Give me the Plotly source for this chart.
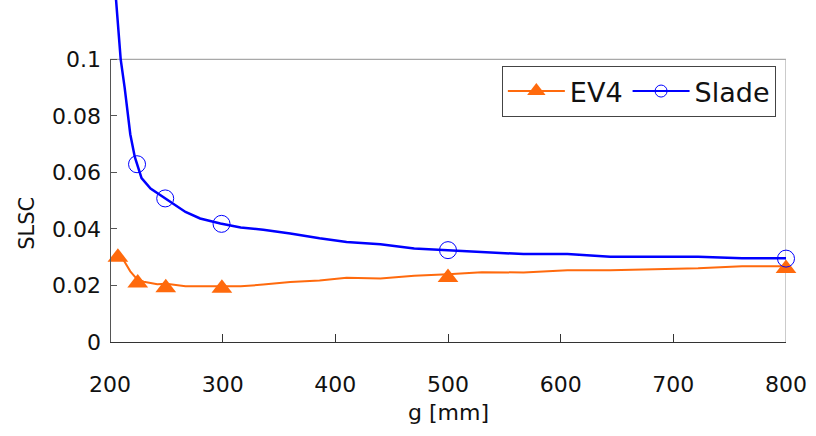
import plotly.graph_objects as go

# ---- data ----
g_line_slade = [204, 209.5, 213, 218, 222, 228, 236, 249, 267, 280, 298, 316, 336, 360, 386,
                410, 440, 470, 500, 530, 567, 606, 644, 683, 722, 761, 800]
slsc_line_slade = [0.128, 0.100, 0.090, 0.0735, 0.0655, 0.058, 0.0543, 0.0508, 0.046, 0.0437,
                   0.0419, 0.0405, 0.0397, 0.0384, 0.0367, 0.0354, 0.0346, 0.0331, 0.0325,
                   0.0319, 0.0311, 0.0311, 0.0302, 0.0302, 0.0302, 0.0296, 0.0296]
g_mark_slade = [224, 249, 299, 500, 800]
slsc_mark_slade = [0.0629, 0.0508, 0.0418, 0.0325, 0.0295]

g_line_ev4 = [207, 212, 218, 224, 230, 236, 242, 250, 259, 267, 280, 300, 316, 336, 360, 386,
              410, 440, 470, 500, 530, 567, 606, 644, 683, 722, 761, 800]
slsc_line_ev4 = [0.0303, 0.0290, 0.0250, 0.0222, 0.0213, 0.0208, 0.0204, 0.0206, 0.0201,
                 0.0197, 0.0197, 0.0197, 0.0197, 0.0203, 0.0212, 0.0218, 0.0227, 0.0225,
                 0.0234, 0.0240, 0.0247, 0.0246, 0.0254, 0.0254, 0.0257, 0.0261, 0.0268, 0.0268]
g_mark_ev4 = [207, 224.6, 249.5, 299.3, 500, 800]
slsc_mark_ev4 = [0.0300, 0.0209, 0.0192, 0.0190, 0.0228, 0.0260]

x_ticks = [200, 300, 400, 500, 600, 700, 800]
y_ticks = [0, 0.02, 0.04, 0.06, 0.08, 0.1]
y_tick_text = ["0", "0.02", "0.04", "0.06", "0.08", "0.1"]

ORANGE = "#FF6A0D"
BLUE = "#0000FF"
FONT = "DejaVu Sans"

fig = go.Figure()

# EV4 line + markers (legend entry uses combined style)
fig.add_trace(go.Scatter(x=g_line_ev4, y=slsc_line_ev4, mode="lines",
                         line=dict(color=ORANGE, width=2), showlegend=False, hoverinfo="skip"))
fig.add_trace(go.Scatter(x=g_mark_ev4, y=slsc_mark_ev4, mode="markers", name="EV4",
                         marker=dict(symbol="triangle-up", size=18, color=ORANGE),
                         cliponaxis=False, showlegend=False))
fig.add_trace(go.Scatter(x=g_line_slade, y=slsc_line_slade, mode="lines",
                         line=dict(color=BLUE, width=2.5), showlegend=False, hoverinfo="skip"))
fig.add_trace(go.Scatter(x=g_mark_slade, y=slsc_mark_slade, mode="markers", name="Slade",
                         marker=dict(symbol="circle-open", size=17, color=BLUE,
                                     line=dict(width=1, color=BLUE)),
                         cliponaxis=False, showlegend=False))

# legend-only traces
fig.add_trace(go.Scatter(x=[None], y=[None], mode="lines+markers", name="EV4",
                         line=dict(color=ORANGE, width=2),
                         marker=dict(symbol="triangle-up", size=16, color=ORANGE)))
fig.add_trace(go.Scatter(x=[None], y=[None], mode="lines+markers", name="Slade",
                         line=dict(color=BLUE, width=2),
                         marker=dict(symbol="circle-open", size=12, color=BLUE,
                                     line=dict(width=1, color=BLUE))))

# frame
fig.add_shape(type="line", xref="x", yref="y", x0=200, x1=800, y0=0.1, y1=0.1,
              line=dict(color="#A8A8A8", width=1.2), layer="below")
fig.add_shape(type="line", xref="x", yref="y", x0=800, x1=800, y0=0, y1=0.1,
              line=dict(color="#A8A8A8", width=1.2), layer="below")
fig.add_shape(type="line", xref="x", yref="y", x0=200, x1=200, y0=0, y1=0.1,
              line=dict(color="#555555", width=2), layer="above")

fig.update_layout(
    width=816, height=436,
    margin=dict(l=110, r=30, t=0, b=94, pad=0),
    paper_bgcolor="white", plot_bgcolor="white",
    font=dict(family=FONT, size=22, color="#111111"),
    showlegend=True,
    legend=dict(orientation="h", x=0.985, xanchor="right", y=0.807, yanchor="top",
                bordercolor="#444444", borderwidth=1, bgcolor="white",
                font=dict(family=FONT, size=27, color="#111111"),
                itemwidth=57, tracegroupgap=0),
    xaxis=dict(range=[200, 800], tickvals=x_ticks, ticks="inside", ticklen=8,
               tickcolor="#333333", tickwidth=1, showline=True, linecolor="#333333",
               linewidth=1.2, showgrid=False, zeroline=False, ticklabelstandoff=22,
               tickfont=dict(size=22)),
    yaxis=dict(range=[0, 0.121], tickvals=y_ticks, ticktext=y_tick_text, ticks="inside",
               ticklen=7, tickcolor="#555555", tickwidth=1.3, showline=False,
               showgrid=False, zeroline=False, ticklabelstandoff=8,
               tickfont=dict(size=22)),
    annotations=[
        dict(text="g [mm]", xref="paper", yref="paper", x=0.5, y=-0.205, xanchor="center",
             yanchor="middle", showarrow=False, font=dict(size=22)),
        dict(text="SLSC", xref="paper", yref="y", x=-0.123, y=0.0421, xanchor="center",
             yanchor="middle", textangle=-90, showarrow=False, font=dict(size=21)),
    ],
)

fig.write_html("out.html")
